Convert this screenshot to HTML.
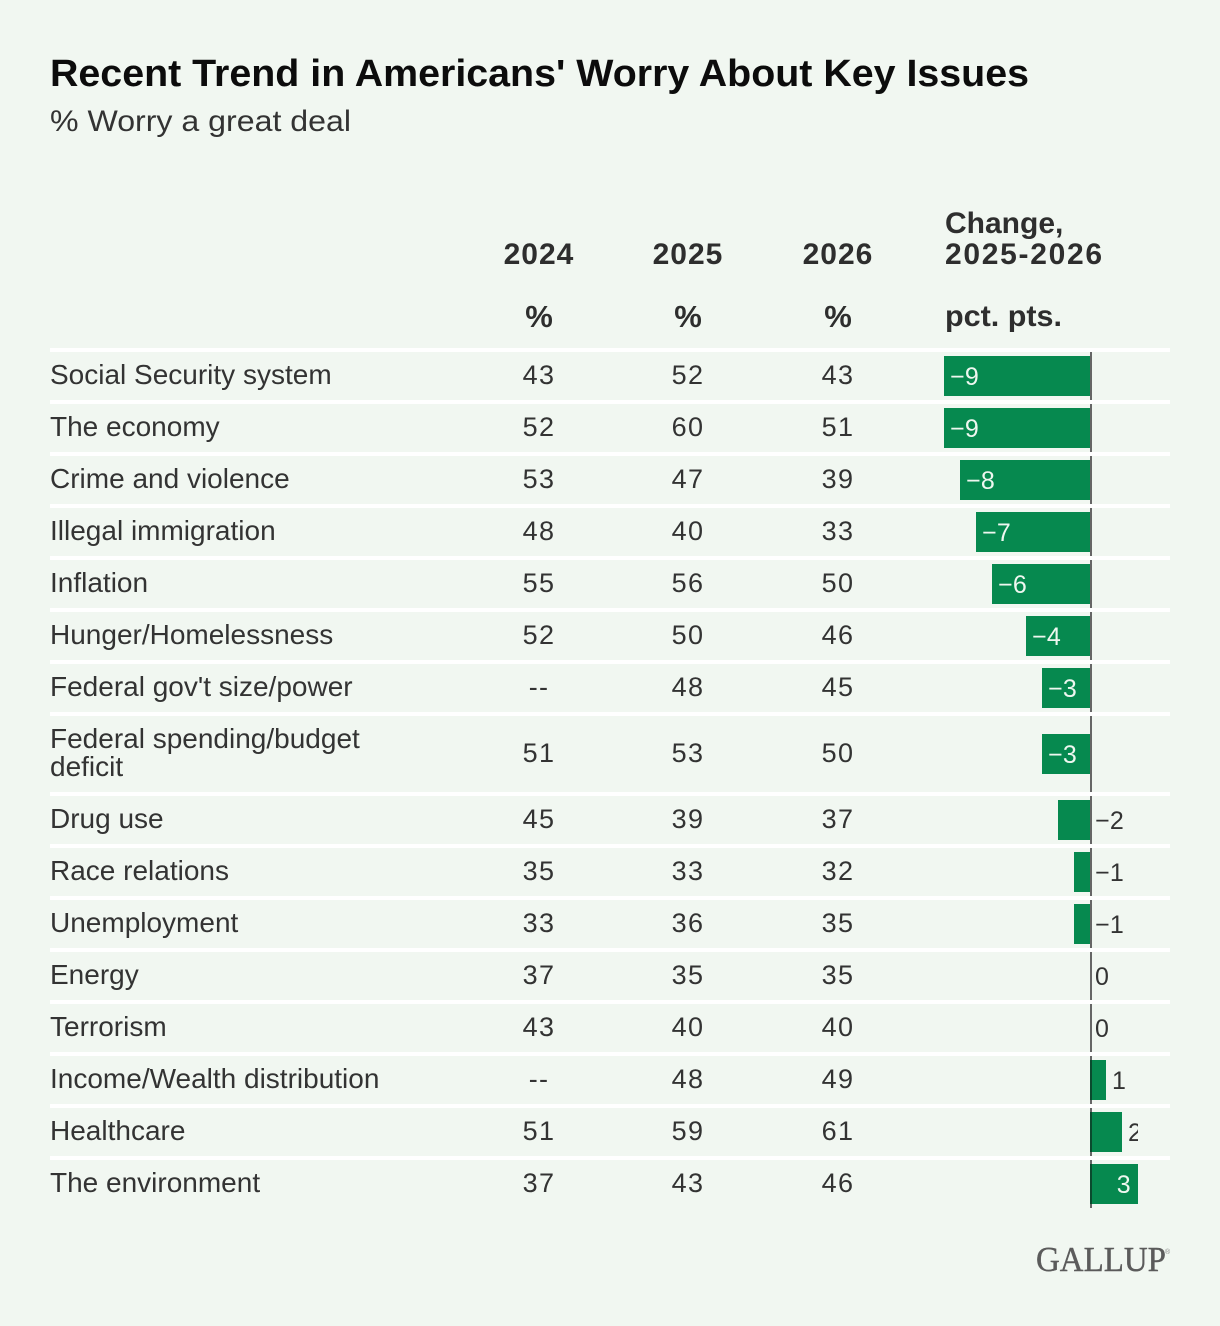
<!DOCTYPE html>
<html lang="en">
<head>
<meta charset="utf-8">
<title>Recent Trend in Americans' Worry About Key Issues</title>
<style>
html,body{margin:0;padding:0;background:#f1f7f1;}
svg{display:block;font-family:"Liberation Sans",sans-serif;}
.hdr{font-size:30px;font-weight:700;fill:#2e2e2e;letter-spacing:1px;}
.hdr2{font-size:30px;font-weight:700;fill:#2e2e2e;}
.pct{font-size:31px;font-weight:700;fill:#2e2e2e;}
.lab{font-size:28px;fill:#333;}
.num{font-size:27px;fill:#333;letter-spacing:1.3px;text-anchor:middle;}
.val{font-size:25px;letter-spacing:.3px;}
</style>
</head>
<body>
<svg id="chart" width="1220" height="1326" viewBox="0 0 1220 1326" xmlns="http://www.w3.org/2000/svg">
  <defs>
    <clipPath id="value-clip"><rect x="900" y="340" width="238" height="880"/></clipPath>
  </defs>
  <rect width="1220" height="1326" fill="#f1f7f1"/>
  <text x="50" y="86" font-size="38" font-weight="700" fill="#0c0c0c" textLength="979" lengthAdjust="spacingAndGlyphs">Recent Trend in Americans' Worry About Key Issues</text>
  <text x="50" y="131" font-size="30" fill="#333" textLength="301" lengthAdjust="spacingAndGlyphs">% Worry a great deal</text>

  <text class="hdr" x="539" y="264" text-anchor="middle">2024</text>
  <text class="hdr" x="688" y="264" text-anchor="middle">2025</text>
  <text class="hdr" x="838" y="264" text-anchor="middle">2026</text>
  <text class="pct" x="539" y="327" text-anchor="middle">%</text>
  <text class="pct" x="688" y="327" text-anchor="middle">%</text>
  <text class="pct" x="838" y="327" text-anchor="middle">%</text>
  <text class="hdr2" x="945" y="233">Change,</text>
  <text class="hdr2" x="945" y="264" textLength="157" lengthAdjust="spacing">2025-2026</text>
  <text class="hdr2" x="945" y="326" textLength="117" lengthAdjust="spacingAndGlyphs">pct. pts.</text>

  <g id="rows"></g>

  <text x="1036" y="1271" font-size="35" fill="#5b5b5b" stroke="#5b5b5b" stroke-width="0.4" textLength="130" lengthAdjust="spacingAndGlyphs" style="font-family:'Liberation Serif',serif">GALLUP</text>
  <text x="1165" y="1254" font-size="7" fill="#888">®</text>
</svg>
<script>
const categories = [
  ["Social Security system"],
  ["The economy"],
  ["Crime and violence"],
  ["Illegal immigration"],
  ["Inflation"],
  ["Hunger/Homelessness"],
  ["Federal gov't size/power"],
  ["Federal spending/budget", "deficit"],
  ["Drug use"],
  ["Race relations"],
  ["Unemployment"],
  ["Energy"],
  ["Terrorism"],
  ["Income/Wealth distribution"],
  ["Healthcare"],
  ["The environment"]
];
const values2024 = ["43","52","53","48","55","52","--","51","45","35","33","37","43","--","51","37"];
const values2025 = [52,60,47,40,56,50,48,53,39,33,36,35,40,48,59,43];
const values2026 = [43,51,39,33,50,46,45,50,37,32,35,35,40,49,61,46];
const changes = [-9.1,-9.1,-8.1,-7.1,-6.1,-4,-3,-3,-2,-1,-1,0,0,1,2,3];

const NS = 'http://www.w3.org/2000/svg';
const rowsGroup = document.getElementById('rows');
const COLOR_BAR = '#06894f';
const xChange = v => Math.round(1090 + v * 16);
const columns = [[values2024, 539], [values2025, 688], [values2026, 838]];

function make(tag, attrs, text) {
  const el = document.createElementNS(NS, tag);
  for (const k in attrs) el.setAttribute(k, attrs[k]);
  if (text !== undefined) el.textContent = text;
  rowsGroup.appendChild(el);
  return el;
}

let rowTop = 352;
categories.forEach((lines, i) => {
  const rowH = lines.length > 1 ? 76 : 48;
  const mid = rowTop + rowH / 2;

  const sep = make('rect', {x: 50, y: rowTop - 4, width: 1120, height: 4, fill: '#ffffff'});
  
  

  lines.forEach((line, j) => {
    const y = lines.length > 1 ? mid - 6 + j * 28 : mid + 8;
    const lab = make('text', {class: 'lab', x: 50, y: y}, line);
    
    
  });

  columns.forEach(([arr, cx]) => {
    const cell = make('text', {class: 'num', x: cx, y: mid + 8}, arr[i]);
    
    
  });

  const axis = make('rect', {x: 1090, y: rowTop, width: 2, height: rowH, fill: '#666666'});
  
  

  const v = changes[i];
  const shown = Math.round(v);
  const x0 = xChange(0);
  const xv = xChange(v);
  let inside = false;
  if (v !== 0) {
    const bar = make('rect', {
      x: Math.min(x0, xv), y: mid - 20,
      width: Math.abs(xv - x0), height: 40, fill: COLOR_BAR
    });
    
    
    if (v > 0) {
      const edge = make('rect', {x: x0, y: mid - 20, width: 2, height: 40, fill: '#0a4a2e'});
      
      
    }
    inside = Math.abs(v) >= 3;
  }

  const labelText = shown < 0 ? '\u2212' + Math.abs(shown) : String(shown);
  let attrs;
  if (inside && v < 0) attrs = {x: xv + 6, 'text-anchor': 'start', fill: '#eef7f0'};
  else if (inside) attrs = {x: xv - 7, 'text-anchor': 'end', fill: '#eef7f0'};
  else if (v > 0) attrs = {x: xv + 6, 'text-anchor': 'start', fill: '#333'};
  else attrs = {x: x0 + 5, 'text-anchor': 'start', fill: '#333'};
  attrs.class = 'val';
  attrs.y = mid + 9;
  attrs['clip-path'] = 'url(#value-clip)';
  const vl = make('text', attrs, labelText);
  
  

  rowTop += rowH + 4;
});
</script>
</body>
</html>
